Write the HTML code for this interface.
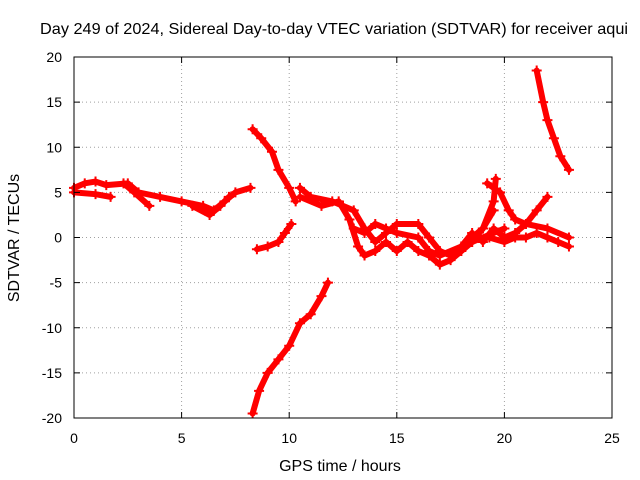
<!DOCTYPE html>
<html><head><meta charset="utf-8"><style>
body{margin:0;background:#fff;}
svg{display:block;font-family:"Liberation Sans",sans-serif;}
</style></head><body>
<svg id="chart" width="640" height="480" viewBox="0 0 640 480" xmlns="http://www.w3.org/2000/svg">
<rect width="640" height="480" fill="#fff"/>
<g id="grid"></g>
<g id="series"></g>
<rect x="74" y="57" width="538" height="361" fill="none" stroke="#000" stroke-width="1"/>
<g id="ticks"></g>
<text x="40" y="34" font-size="16" textLength="588" lengthAdjust="spacingAndGlyphs">Day 249 of 2024, Sidereal Day-to-day VTEC variation (SDTVAR) for receiver aqui</text>
<text x="340" y="471" font-size="16" text-anchor="middle">GPS time / hours</text>
<text transform="translate(19,238) rotate(-90)" font-size="16" text-anchor="middle">SDTVAR / TECUs</text>
</svg>
<script>
const xTicks=[0,5,10,15,20,25];
const yTicks=[-20,-15,-10,-5,0,5,10,15,20];
const traceA=[[0,5.5],[0.5,6],[1,6.2],[1.5,5.8],[2.5,6],[3,5],[4,4.5],[5,4],[6,3.5],[6.5,3],[7,4],[7.5,5],[8.2,5.5]];
const traceB=[[0,5],[1,4.8],[1.7,4.5]];
const traceC=[[2.3,6],[2.8,5],[3.5,3.5]];
const traceD=[[5.5,3.5],[6.3,2.5],[6.8,3.5],[7.2,4.5]];
const traceE=[[8.3,-19.5],[8.6,-17],[9,-15],[9.5,-13.5],[10,-12],[10.5,-9.5],[11,-8.5],[11.5,-6.5],[11.8,-5]];
const traceF=[[8.5,-1.3],[9,-1],[9.5,-0.5],[9.8,0.5],[10.1,1.5]];
const traceG=[[8.3,12],[8.7,11],[9.2,9.5],[9.5,7.5],[10,5.5],[10.3,4]];
const traceH=[[10.5,5.5],[11,4.5],[12,4],[12.5,3.5],[13,3],[13.5,1],[14,-0.5],[14.5,0.5],[15,1.5],[16,1.5],[16.5,0],[17,-1.5],[17.5,-2],[18,-1],[18.5,0],[19,1],[19.5,4],[19.6,6.5]];
const traceI=[[10.5,4.5],[11.5,3.5],[12.3,4],[12.8,2],[13.2,-1],[13.5,-2],[14,-1.5],[14.5,-0.5],[15,-1.5],[15.5,-0.5],[16,-1.5],[16.5,-2],[17,-3],[17.5,-2.5],[18,-1.5],[18.5,-0.5],[19,1],[19.5,3]];
const traceJ=[[13,1],[13.5,0.5],[14,1.5],[14.5,1],[15,0.5],[16,0],[16.5,-1.5],[17,-2],[18,-1],[18.5,0.5]];
const traceK=[[19.2,6],[19.8,5],[20.2,3],[20.5,2],[21,1.5],[22,1],[23,0]];
const traceL=[[19.3,0],[20,-0.5],[20.5,0],[21,0],[21.5,0.5],[22,0],[22.5,-0.5],[23,-1]];
const traceM=[[19,-0.5],[19.5,1],[20,0],[20.5,0.5],[21,1.5],[21.5,3],[22,4.5]];
const traceN=[[21.5,18.5],[21.8,15],[22,13],[22.3,11],[22.6,9],[23,7.5]];
const traceO=[[18.5,-0.5],[19.5,0.5],[20,1]];
const traces=[traceA,traceB,traceC,traceD,traceE,traceF,traceG,traceH,traceI,traceJ,traceK,traceL,traceM,traceN,traceO];
const NS="http://www.w3.org/2000/svg";
const X0=74,X1=612,Y0=418,Y1=57;
function sx(v){return X0+(v-0)/(25-0)*(X1-X0);}
function sy(v){return Y0-(v+20)/40*(Y0-Y1);}
function mk(t,a,p){const e=document.createElementNS(NS,t);for(const k in a)e.setAttribute(k,a[k]);p.appendChild(e);return e;}
const grid=document.getElementById('grid'),ticks=document.getElementById('ticks'),ser=document.getElementById('series');
xTicks.forEach(v=>{
  const x=sx(v);
  if(v>0&&v<25){const g=mk('line',{x1:x,x2:x,y1:Y1,y2:Y0,stroke:'#a0a0a0','stroke-dasharray':'1,3'},grid);
  
  }
  mk('line',{x1:x,x2:x,y1:Y0,y2:Y0-6,stroke:'#000'},ticks);
  mk('line',{x1:x,x2:x,y1:Y1,y2:Y1+6,stroke:'#000'},ticks);
  const t=mk('text',{x:x,y:443,'font-size':14,'text-anchor':'middle'},ticks);t.textContent=v;
  
  
});
yTicks.forEach(v=>{
  const y=sy(v);
  if(v>-20&&v<20){const g=mk('line',{x1:X0,x2:X1,y1:y,y2:y,stroke:'#a0a0a0','stroke-dasharray':'1,3'},grid);
  
  }
  mk('line',{x1:X0,x2:X0+6,y1:y,y2:y,stroke:'#000'},ticks);
  mk('line',{x1:X1,x2:X1-6,y1:y,y2:y,stroke:'#000'},ticks);
  const t=mk('text',{x:62,y:y+5,'font-size':14,'text-anchor':'end'},ticks);t.textContent=v;
  
  
});
traces.forEach((tr,i)=>{
  const pl=mk('polyline',{points:tr.map(p=>sx(p[0])+','+sy(p[1])).join(' '),fill:'none',stroke:'#ff0000','stroke-width':6,'stroke-linejoin':'round','stroke-linecap':'round'},ser);
  
  
  tr.forEach(p=>{
    const x=sx(p[0]),y=sy(p[1]);
    const m=mk('path',{d:`M${x-5},${y}H${x+5}M${x},${y-5}V${y+5}`,stroke:'#ff0000','stroke-width':2},ser);
    
    
  });
});
</script>
</body></html>
